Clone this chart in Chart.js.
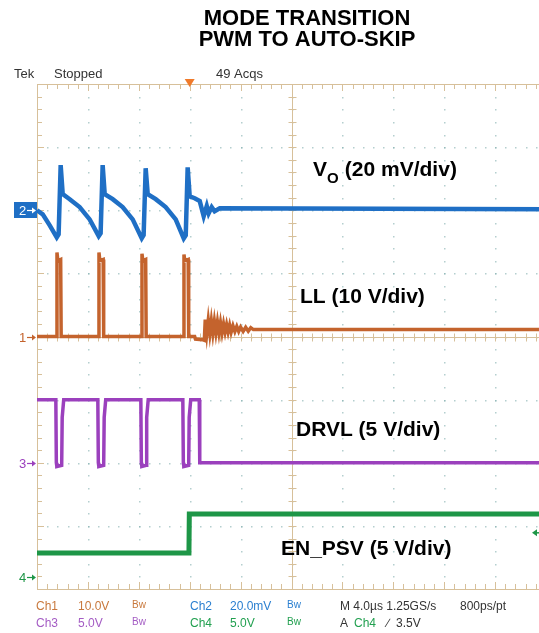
<!DOCTYPE html>
<html>
<head>
<meta charset="utf-8">
<script src="https://cdn.jsdelivr.net/npm/chart.js@4"></script>
<style>
  body { margin: 0; background: #fff; overflow: hidden; }
  #wrap { width: 539px; height: 633px; overflow: hidden; position: relative; }
</style>
</head>
<body>
<div id="wrap"><canvas id="scopeChart" width="560" height="633"></canvas></div>
<script>
// time axis, microseconds relative to trigger (4 us/div, 10 div)
const tMin = -12, tMax = 28, usPerDiv = 4;

// channel ground positions (divisions from bottom) and scales
const voGround = 6.0, voPerDiv = 20;      // mV/div
const llGround = 4.0, llPerDiv = 10;      // V/div
const drvlGround = 2.0, drvlPerDiv = 5;   // V/div
const enGround = 0.19, enPerDiv = 5;      // V/div
const trigLevel = 3.5;                    // V on Ch4

// VO (mV)
const voTime = [-12.0, -11.55, -11.0, -10.45, -10.3, -10.14, -9.98, -9.43, -8.65, -7.86, -7.15, -7.0, -6.84, -6.68, -6.05, -5.27, -4.48, -3.77, -3.62, -3.46, -3.3, -2.67, -1.89, -1.1, -0.47, -0.31, -0.16, 0, 0.39, 0.79, 1.1, 1.34, 1.49, 1.73, 1.96, 2.36, 28];
const voMv = [0, -1.3, -4.8, -8.6, -7.6, 14.3, 5.1, 3.5, 1.0, -2.9, -8.2, -7.3, 14.3, 5.1, 3.5, 1.0, -2.9, -8.9, -7.9, 13.3, 5.1, 3.5, 1.0, -2.9, -8.9, -7.9, 13.6, 4.4, 3.8, 2.9, -1.9, 1.3, -1.0, 1.0, -0.3, 0.6, 0.3];

// LL (V)
const llTime = [-12, -10.47, -10.43, -10.36, -10.14, -10.1, -7.17, -7.13, -7.06, -6.8, -6.76, -3.79, -3.75, -3.68, -3.46, -3.42, -0.49, -0.45, -0.38, -0.12, -0.08, 0.39, 0.45, 1.0, 1.15, 1.22, 1.34, 1.46, 1.58, 1.7, 1.82, 1.94, 2.06, 2.18, 2.3, 2.42, 2.54, 2.66, 2.78, 2.9, 3.02, 3.14, 3.26, 3.4, 3.55, 3.7, 3.85, 4.0, 4.2, 4.4, 4.6, 4.8, 5.0, 28];
const llVolts = [0, 0, 13.3, 12.0, 12.2, 0, 0, 13.3, 12.0, 12.2, 0, 0, 13.1, 12.0, 12.2, 0, 0, 13.0, 12.0, 12.2, 0, 0, -0.4, -0.5, -0.6, 2.7, 0.4, 2.6, 0.5, 2.5, 0.5, 2.4, 0.6, 2.3, 0.6, 2.2, 0.6, 2.0, 0.7, 1.9, 0.7, 1.8, 0.7, 1.7, 0.8, 1.6, 0.8, 1.5, 0.8, 1.45, 0.85, 1.4, 1.1, 1.1];

// DRVL (V)
const drvlTime = [-12, -10.52, -10.48, -10.44, -10.06, -10.02, -9.9, -7.22, -7.18, -7.14, -6.76, -6.72, -6.6, -3.84, -3.8, -3.76, -3.42, -3.38, -3.26, -0.54, -0.5, -0.46, -0.08, -0.04, 0.08, 0.75, 0.79, 28];
const drvlVolts = [5.0, 5.0, 0, -0.3, -0.2, 3.6, 5.0, 5.0, 0, -0.3, -0.2, 3.6, 5.0, 5.0, 0, -0.3, -0.2, 3.6, 5.0, 5.0, 0, -0.3, -0.2, 3.6, 5.0, 5.0, 0, 0];

// EN_PSV (V)
const enTime = [-12, -0.06, -0.03, 28];
const enVolts = [1.9, 1.9, 5.0, 5.0];

const toDiv = (times, vals, ground, perDiv) => times.map((t, i) => ({ x: t, y: ground + vals[i] / perDiv }));

const narrow = "'Liberation Sans', Arial, sans-serif";
const bold = "'Liberation Sans', Arial, sans-serif";

//graticule, labels and scope readouts
const scopeFace = {
    id: 'scopeFace',
    beforeDatasetsDraw(chart) {
        const { ctx, chartArea: a, scales: { x, y } } = chart;
        const divW = (a.right - a.left) / 10, divH = (a.bottom - a.top) / 8;
        ctx.save();
        // dotted grid
        ctx.fillStyle = 'rgba(130,175,175,0.6)';
        for (let d = 1; d < 10; d++) {
            const px = Math.round(x.getPixelForValue(tMin + d * usPerDiv));
            for (let s = 1; s < 40; s++) ctx.fillRect(px, Math.round(a.top + s * divH / 5), 1.5, 1.5);
        }
        for (let d = 1; d < 8; d++) {
            const py = Math.round(y.getPixelForValue(d));
            for (let s = 1; s < 50; s++) ctx.fillRect(Math.round(a.left + s * divW / 5), py, 1.5, 1.5);
        }
        // border + center cross with ticks
        ctx.strokeStyle = '#d7c09a';
        ctx.lineWidth = 1;
        ctx.strokeRect(a.left + 0.5, a.top + 0.5, a.right - a.left, a.bottom - a.top);
        const cx = Math.round(x.getPixelForValue((tMin + tMax) / 2)) + 0.5;
        const cy = Math.round(y.getPixelForValue(4)) + 0.5;
        ctx.beginPath();
        ctx.moveTo(cx, a.top); ctx.lineTo(cx, a.bottom);
        ctx.moveTo(a.left, cy); ctx.lineTo(a.right, cy);
        for (let s = 1; s < 50; s++) {
            const px = Math.round(a.left + s * divW / 5) + 0.5;
            const len = s % 5 === 0 ? 7 : 5;
            ctx.moveTo(px, a.top); ctx.lineTo(px, a.top + len);
            ctx.moveTo(px, a.bottom); ctx.lineTo(px, a.bottom - len);
            ctx.moveTo(px, cy - 4); ctx.lineTo(px, cy + 4);
        }
        for (let s = 1; s < 40; s++) {
            const py = Math.round(a.top + s * divH / 5) + 0.5;
            const len = s % 5 === 0 ? 7 : 5;
            ctx.moveTo(a.left, py); ctx.lineTo(a.left + len, py);
            ctx.moveTo(cx - 4, py); ctx.lineTo(cx + 4, py);
        }
        ctx.stroke();
        ctx.restore();
    },
    afterDraw(chart) {
        const { ctx, chartArea: a, scales: { x, y } } = chart;
        ctx.save();
        // title
        ctx.fillStyle = '#000';
        ctx.textAlign = 'center';
        ctx.font = 'bold 22px ' + bold;
        ctx.fillText('MODE TRANSITION', 307, 25);
        ctx.fillText('PWM TO AUTO-SKIP', 307, 46);

        // scope header
        ctx.textAlign = 'left';
        ctx.fillStyle = '#333';
        ctx.font = '13px ' + narrow;
        ctx.fillText('Tek', 14, 78);
        ctx.fillText('Stopped', 54, 78);
        ctx.fillText('49 Acqs', 216, 78);

        // trigger position marker
        const tx = x.getPixelForValue(0);
        ctx.fillStyle = '#f07a2a';
        ctx.beginPath();
        ctx.moveTo(tx - 5, a.top - 5); ctx.lineTo(tx + 5, a.top - 5); ctx.lineTo(tx, a.top + 3);
        ctx.closePath(); ctx.fill();

        // trigger level marker (right edge)
        const ty = y.getPixelForValue(enGround + trigLevel / enPerDiv);
        ctx.strokeStyle = '#1e9647'; ctx.fillStyle = '#1e9647'; ctx.lineWidth = 1.5;
        ctx.beginPath(); ctx.moveTo(a.right, ty); ctx.lineTo(a.right - 12, ty); ctx.stroke();
        ctx.beginPath(); ctx.moveTo(a.right - 14, ty); ctx.lineTo(a.right - 9, ty - 3.5); ctx.lineTo(a.right - 9, ty + 3.5);
        ctx.closePath(); ctx.fill();

        // channel ground markers
        const marker = (label, ground, color, boxed) => {
            const py = Math.round(y.getPixelForValue(ground));
            if (boxed) {
                ctx.fillStyle = color;
                ctx.fillRect(14, py - 8, 23, 16);
            }
            const fg = boxed ? '#fff' : color;
            ctx.fillStyle = fg; ctx.strokeStyle = fg; ctx.lineWidth = 1.2;
            ctx.font = '13px ' + narrow;
            ctx.fillText(label, 19, py + 5);
            ctx.beginPath(); ctx.moveTo(27, py + 0.5); ctx.lineTo(34, py + 0.5); ctx.stroke();
            ctx.beginPath(); ctx.moveTo(36, py + 0.5); ctx.lineTo(32, py - 2.5); ctx.lineTo(32, py + 3.5);
            ctx.closePath(); ctx.fill();
        };
        marker('2', voGround, '#1f6fc5', true);
        marker('1', llGround, '#c4632d', false);
        marker('3', drvlGround, '#9b40bd', false);
        marker('4', enGround, '#1e9647', false);

        // trace labels
        ctx.fillStyle = '#000';
        ctx.font = 'bold 21px ' + bold;
        ctx.fillText('V', 313, 176);
        ctx.font = 'bold 15px ' + bold;
        ctx.fillText('O', 327, 183);
        ctx.font = 'bold 21px ' + bold;
        ctx.fillText(' (20 mV/div)', 339, 176);
        ctx.fillText('LL (10 V/div)', 300, 303);
        ctx.fillText('DRVL (5 V/div)', 296, 436);
        ctx.fillText('EN_PSV (5 V/div)', 281, 555);

        // readouts
        const r1 = 610, r2 = 627;
        const txt = (s, px, py, color, size) => {
            ctx.fillStyle = color;
            ctx.font = (size || 12) + 'px ' + narrow;
            ctx.fillText(s, px, py);
        };
        txt('Ch1', 36, r1, '#c8783c'); txt('10.0V', 78, r1, '#c8783c'); txt('Bw', 132, r1 - 2, '#c8783c', 10);
        txt('Ch2', 190, r1, '#2a7fd0'); txt('20.0mV', 230, r1, '#2a7fd0'); txt('Bw', 287, r1 - 2, '#2a7fd0', 10);
        txt('M 4.0\u00b5s 1.25GS/s', 340, r1, '#333'); txt('800ps/pt', 460, r1, '#333');
        txt('Ch3', 36, r2, '#a45cc4'); txt('5.0V', 78, r2, '#a45cc4'); txt('Bw', 132, r2 - 2, '#a45cc4', 10);
        txt('Ch4', 190, r2, '#22a050'); txt('5.0V', 230, r2, '#22a050'); txt('Bw', 287, r2 - 2, '#22a050', 10);
        txt('A', 340, r2, '#333'); txt('Ch4', 354, r2, '#22a050'); txt('\u2215', 387, r2, '#333'); txt('3.5V', 396, r2, '#333');
        ctx.restore();
    }
};

new Chart(document.getElementById('scopeChart'), {
    type: 'line',
    data: {
        datasets: [
            { label: 'VO', data: toDiv(voTime, voMv, voGround, voPerDiv), borderColor: '#1f6fc5', borderWidth: 4.5 },
            { label: 'LL', data: toDiv(llTime, llVolts, llGround, llPerDiv), borderColor: '#c4632d', borderWidth: 3.5 },
            { label: 'DRVL', data: toDiv(drvlTime, drvlVolts, drvlGround, drvlPerDiv), borderColor: '#9b40bd', borderWidth: 3.5 },
            { label: 'EN_PSV', data: toDiv(enTime, enVolts, enGround, enPerDiv), borderColor: '#1e9647', borderWidth: 5 }
        ]
    },
    options: {
        responsive: false,
        animation: false,
        devicePixelRatio: 1,
        layout: { padding: { left: 37, right: 14, top: 84, bottom: 44 } },
        elements: { point: { radius: 0 }, line: { tension: 0, fill: false } },
        plugins: { legend: { display: false }, tooltip: { enabled: false } },
        scales: {
            x: { type: 'linear', min: tMin, max: tMax, display: false },
            y: { type: 'linear', min: 0, max: 8, display: false }
        }
    },
    plugins: [scopeFace]
});
</script>
</body>
</html>
